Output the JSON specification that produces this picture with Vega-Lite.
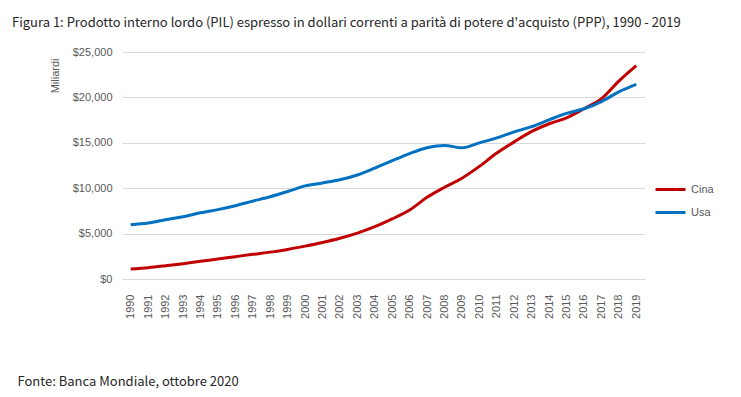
{
  "$schema": "https://vega.github.io/schema/vega-lite/v6.json",
  "width": 523,
  "height": 227,
  "autosize": {"type": "none"},
  "padding": {"left": 122, "top": 52, "right": 96, "bottom": 118},
  "background": "white",
  "title": {
    "text": "Figura 1: Prodotto interno lordo (PIL) espresso in dollari correnti a parità di potere d'acquisto (PPP), 1990 - 2019",
    "anchor": "start",
    "frame": "group",
    "dx": -110,
    "dy": -12,
    "font": "Noto Sans CJK JP",
    "fontSize": 13,
    "fontWeight": "normal",
    "color": "#262626"
  },
  "config": {
    "view": {"stroke": null},
    "axis": {"labelFont": "Liberation Sans", "labelFontSize": 11, "labelColor": "#595959", "domain": false, "ticks": false},
    "legend": {"labelFont": "Liberation Sans", "labelFontSize": 11, "labelColor": "#595959"}
  },
  "data": {
    "values": [
      {"anno": "1990", "paese": "Cina", "pil": 1100}, {"anno": "1990", "paese": "Usa", "pil": 5963},
      {"anno": "1991", "paese": "Cina", "pil": 1250}, {"anno": "1991", "paese": "Usa", "pil": 6158},
      {"anno": "1992", "paese": "Cina", "pil": 1460}, {"anno": "1992", "paese": "Usa", "pil": 6520},
      {"anno": "1993", "paese": "Cina", "pil": 1690}, {"anno": "1993", "paese": "Usa", "pil": 6859},
      {"anno": "1994", "paese": "Cina", "pil": 1950}, {"anno": "1994", "paese": "Usa", "pil": 7287},
      {"anno": "1995", "paese": "Cina", "pil": 2200}, {"anno": "1995", "paese": "Usa", "pil": 7640},
      {"anno": "1996", "paese": "Cina", "pil": 2460}, {"anno": "1996", "paese": "Usa", "pil": 8073},
      {"anno": "1997", "paese": "Cina", "pil": 2720}, {"anno": "1997", "paese": "Usa", "pil": 8578},
      {"anno": "1998", "paese": "Cina", "pil": 2960}, {"anno": "1998", "paese": "Usa", "pil": 9063},
      {"anno": "1999", "paese": "Cina", "pil": 3260}, {"anno": "1999", "paese": "Usa", "pil": 9631},
      {"anno": "2000", "paese": "Cina", "pil": 3620}, {"anno": "2000", "paese": "Usa", "pil": 10252},
      {"anno": "2001", "paese": "Cina", "pil": 4020}, {"anno": "2001", "paese": "Usa", "pil": 10582},
      {"anno": "2002", "paese": "Cina", "pil": 4480}, {"anno": "2002", "paese": "Usa", "pil": 10936},
      {"anno": "2003", "paese": "Cina", "pil": 5050}, {"anno": "2003", "paese": "Usa", "pil": 11458},
      {"anno": "2004", "paese": "Cina", "pil": 5760}, {"anno": "2004", "paese": "Usa", "pil": 12214},
      {"anno": "2005", "paese": "Cina", "pil": 6620}, {"anno": "2005", "paese": "Usa", "pil": 13037},
      {"anno": "2006", "paese": "Cina", "pil": 7600}, {"anno": "2006", "paese": "Usa", "pil": 13815},
      {"anno": "2007", "paese": "Cina", "pil": 9000}, {"anno": "2007", "paese": "Usa", "pil": 14452},
      {"anno": "2008", "paese": "Cina", "pil": 10100}, {"anno": "2008", "paese": "Usa", "pil": 14713},
      {"anno": "2009", "paese": "Cina", "pil": 11100}, {"anno": "2009", "paese": "Usa", "pil": 14449},
      {"anno": "2010", "paese": "Cina", "pil": 12400}, {"anno": "2010", "paese": "Usa", "pil": 14992},
      {"anno": "2011", "paese": "Cina", "pil": 13870}, {"anno": "2011", "paese": "Usa", "pil": 15543},
      {"anno": "2012", "paese": "Cina", "pil": 15100}, {"anno": "2012", "paese": "Usa", "pil": 16197},
      {"anno": "2013", "paese": "Cina", "pil": 16250}, {"anno": "2013", "paese": "Usa", "pil": 16785},
      {"anno": "2014", "paese": "Cina", "pil": 17100}, {"anno": "2014", "paese": "Usa", "pil": 17527},
      {"anno": "2015", "paese": "Cina", "pil": 17750}, {"anno": "2015", "paese": "Usa", "pil": 18238},
      {"anno": "2016", "paese": "Cina", "pil": 18750}, {"anno": "2016", "paese": "Usa", "pil": 18745},
      {"anno": "2017", "paese": "Cina", "pil": 19850}, {"anno": "2017", "paese": "Usa", "pil": 19543},
      {"anno": "2018", "paese": "Cina", "pil": 21800}, {"anno": "2018", "paese": "Usa", "pil": 20612},
      {"anno": "2019", "paese": "Cina", "pil": 23500}, {"anno": "2019", "paese": "Usa", "pil": 21433}
    ]
  },
  "mark": {"type": "line", "strokeWidth": 3, "interpolate": "monotone"},
  "encoding": {
    "x": {
      "field": "anno",
      "type": "ordinal",
      "scale": {"type": "point", "padding": 0.5},
      "axis": {
        "labelAngle": 270,
        "labelPadding": 15,
        "grid": false,
        "title": "Fonte: Banca Mondiale, ottobre 2020",
        "titleX": -105,
        "titleY": 106,
        "titleAlign": "left",
        "titleBaseline": "alphabetic",
        "titleFont": "Noto Sans CJK JP",
        "titleFontSize": 13,
        "titleFontWeight": "normal",
        "titleColor": "#262626"
      }
    },
    "y": {
      "field": "pil",
      "type": "quantitative",
      "scale": {"domain": [0, 25000]},
      "axis": {
        "values": [0, 5000, 10000, 15000, 20000, 25000],
        "format": "$,.0f",
        "labelPadding": 10,
        "grid": true,
        "gridColor": "#d9d9d9",
        "gridWidth": 1,
        "title": "Miliardi",
        "titleX": -67,
        "titleY": 6,
        "titleAngle": 270,
        "titleAlign": "right",
        "titleBaseline": "middle",
        "titleFont": "Liberation Sans",
        "titleFontSize": 11,
        "titleFontWeight": "normal",
        "titleColor": "#595959"
      }
    },
    "color": {
      "field": "paese",
      "type": "nominal",
      "scale": {"domain": ["Cina", "Usa"], "range": ["#C00000", "#0070C0"]},
      "legend": {
        "title": null,
        "orient": "none",
        "legendX": 532,
        "legendY": 121,
        "symbolType": "stroke",
        "symbolSize": 900,
        "symbolStrokeWidth": 3,
        "rowPadding": 0,
        "labelOffset": 4
      }
    }
  }
}
